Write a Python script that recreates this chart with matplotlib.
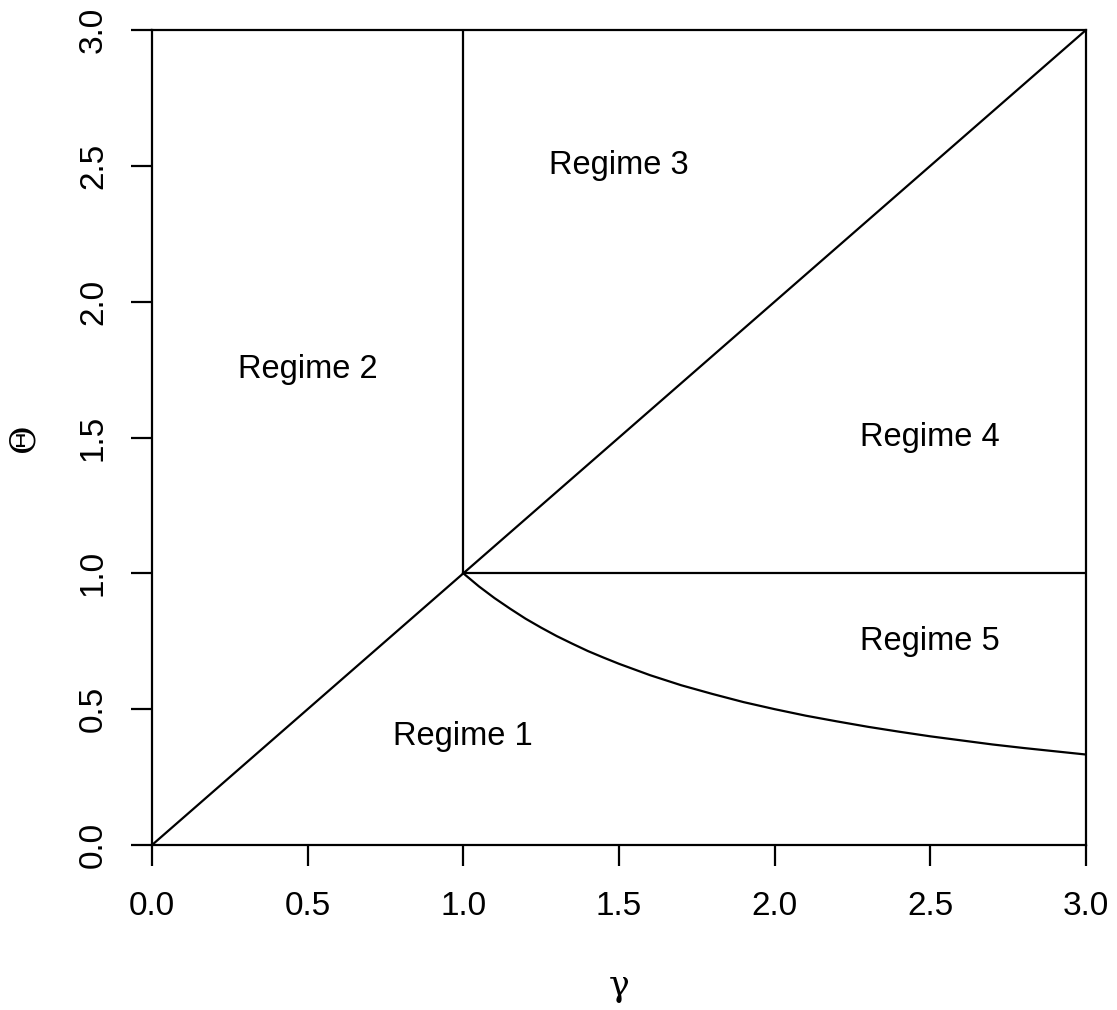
#importing the relevant modules
import matplotlib
matplotlib.use("Agg")
import matplotlib.pyplot as plt

#region boundaries
diag_gamma = [0.0, 3.0]
diag_theta = [0.0, 3.0]
vert_gamma = [1.0, 1.0]
vert_theta = [1.0, 3.0]
horiz_gamma = [1.0, 3.0]
horiz_theta = [1.0, 1.0]

#lower boundary curve between regime 1 and regime 5
curve_gamma = [1.0, 1.05, 1.1, 1.15, 1.2, 1.25, 1.3, 1.35, 1.4, 1.45, 1.5, 1.6, 1.7, 1.8, 1.9, 2.0,
               2.1, 2.2, 2.3, 2.4, 2.5, 2.6, 2.7, 2.8, 2.9, 3.0]
curve_theta = [1.0, 0.952, 0.909, 0.870, 0.833, 0.8, 0.769, 0.741, 0.714, 0.690, 0.667,
               0.625, 0.588, 0.556, 0.526, 0.5,
               0.476, 0.455, 0.435, 0.417, 0.4, 0.385, 0.370, 0.357, 0.345, 0.333]

#region labels and where they sit
labels = ["Regime 1", "Regime 2", "Regime 3", "Regime 4", "Regime 5"]
label_gamma = [1.0, 0.5, 1.5, 2.5, 2.5]
label_theta = [0.4, 1.75, 2.5, 1.5, 0.75]

ticks = [0.0, 0.5, 1.0, 1.5, 2.0, 2.5, 3.0]
tick_labels = ["0.0", "0.5", "1.0", "1.5", "2.0", "2.5", "3.0"]

plt.rcParams['font.family'] = ['Liberation Sans', 'DejaVu Sans']

fig = plt.figure(figsize=(11.17, 10.10), dpi=100)
ax = fig.add_axes([152 / 1117, 165 / 1010, 934 / 1117, 815 / 1010])

lw = 1.6
ax.plot(diag_gamma, diag_theta, color="black", lw=lw)
ax.plot(vert_gamma, vert_theta, color="black", lw=lw)
ax.plot(horiz_gamma, horiz_theta, color="black", lw=lw)
ax.plot(curve_gamma, curve_theta, color="black", lw=lw)

for txt, g, t in zip(labels, label_gamma, label_theta):
    ax.text(g, t, txt, ha="center", va="center", fontsize=23.5)

ax.set_xlim(0, 3)
ax.set_ylim(0, 3)
ax.set_xticks(ticks)
ax.set_xticklabels(tick_labels)
ax.set_yticks(ticks)
ax.set_yticklabels(tick_labels, rotation=90, va="center")

for s in ax.spines.values():
    s.set_linewidth(lw)

ax.tick_params(axis="both", direction="out", length=15, width=lw, labelsize=24)
ax.tick_params(axis="x", pad=18)
ax.tick_params(axis="y", pad=16)

ax.set_xlabel("γ", family=["DejaVu Serif"], fontsize=25, labelpad=34)
ax.set_ylabel("Θ", family=["DejaVu Serif"], fontsize=25, labelpad=27)

fig.savefig("out.png", dpi=100)
